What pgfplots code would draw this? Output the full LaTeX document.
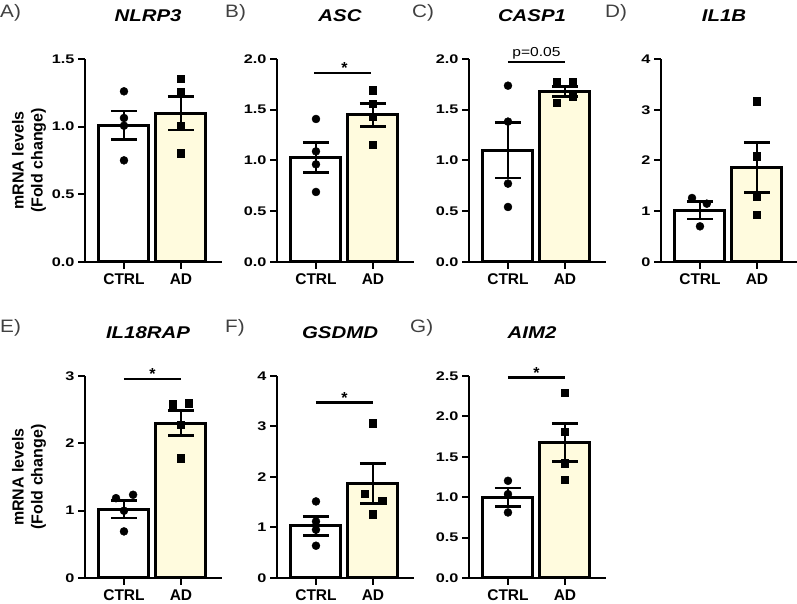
\documentclass[border=0pt]{standalone}
\usepackage{graphicx}
\usepackage{pgfplots}
\pgfplotsset{compat=1.18}
\usepackage{fontspec}
\setmainfont{Liberation Sans}

\definecolor{adfill}{RGB}{255,251,222}
\definecolor{lettergray}{RGB}{64,64,64}

% horizontally widened text, as set in the original figure
\newcommand{\wide}[2]{\scalebox{#1}[1]{#2}}

\tikzset{sig/.style={line width=2.5pt}}

\pgfplotsset{
  panel/.style={
    width=137pt, scale only axis, anchor=south west,
    axis x line*=bottom, axis y line*=left,
    xmin=-0.684, xmax=1.72, ymin=0,
    xtick={0,1}, xticklabels={CTRL,AD},
    axis line style={line width=2.2pt},
    every tick/.style={line width=2pt, black},
    major tick length=7pt, tick align=outside,
    clip=false,
    /pgf/number format/assume math mode=true,
    xticklabel style={font=\fontsize{15.5}{17}\selectfont\bfseries, yshift=-1pt},
    yticklabel={\wide{1.3}{\pgfmathprintnumber{\tick}}},
    yticklabel style={font=\fontsize{12.5}{14}\selectfont\bfseries, xshift=0pt},
    title style={font=\fontsize{17}{19}\selectfont\bfseries\itshape, at={(rel axis cs:0.46,1)}, anchor=base, yshift=31pt},
  },
  dec1/.style={yticklabel style={/pgf/number format/.cd, fixed, fixed zerofill, precision=1}},
  barbase/.style={ybar, bar width=50pt, bar shift=0pt, draw=black, line width=3pt},
  errs/.style={error bars/.cd, y dir=both, y explicit, error mark=|,
    error bar style={line width=2.8pt, black},
    error mark options={line width=2.8pt, mark size=13pt, black}},
  ctrlbar/.style={barbase, fill=white, errs},
  adbar/.style={barbase, fill=adfill, errs},
  ctrlpts/.style={only marks, mark=*, mark size=4pt, black},
  adpts/.style={only marks, mark=square*, mark size=3.7pt, black},
}

\newcommand{\ylab}{\node[rotate=90, align=center, font=\fontsize{16}{19}\selectfont\bfseries]
  at (axis description cs:-0.409,0.5) {mRNA levels\\(Fold change)};}
\newcommand{\sigstar}[1]{\node[font=\fontsize{16}{18}\selectfont\bfseries, anchor=base] at (axis cs:0.5,#1) [yshift=-1pt] {*};}

\begin{document}
\begin{tikzpicture}
\useasboundingbox (0pt,0pt) rectangle (797pt,604pt);

% panel letters
\begin{scope}[every node/.style={anchor=west, font=\fontsize{18}{20}\selectfont, text=lettergray, inner sep=0pt}]
\node at (0pt,591pt) {\wide{1.15}{A)}};
\node at (225pt,591pt) {\wide{1.15}{B)}};
\node at (412pt,591pt) {\wide{1.15}{C)}};
\node at (605pt,591pt) {\wide{1.15}{D)}};
\node at (0pt,276pt) {\wide{1.15}{E)}};
\node at (225pt,276pt) {\wide{1.15}{F)}};
\node at (410pt,276pt) {\wide{1.15}{G)}};
\end{scope}

% A) NLRP3
\begin{axis}[panel, dec1, at={(85pt,342pt)}, height=203pt, ymax=1.5, ytick={0,0.5,1,1.5}, title={\wide{1.2}{NLRP3}}]
\addplot[ctrlbar] coordinates {(0,1.01) +- (0,0.105)};
\addplot[adbar] coordinates {(1,1.10) +- (0,0.125)};
\addplot[ctrlpts] coordinates {(0,1.261) (0,1.064) (0,1.007) (0,0.751)};
\addplot[adpts] coordinates {(1,1.355) (1,1.256) (1,1.007) (1,0.803)};
\ylab
\end{axis}

% B) ASC
\begin{axis}[panel, dec1, at={(277pt,342pt)}, height=203pt, ymax=2, ytick={0,0.5,1,1.5,2}, title={\wide{1.2}{ASC}}]
\addplot[ctrlbar] coordinates {(0,1.03) +- (0,0.148)};
\addplot[adbar] coordinates {(1,1.45) +- (0,0.115)};
\addplot[ctrlpts] coordinates {(0,1.409) (0,1.090) (0,0.962) (0,0.690)};
\addplot[adpts] coordinates {(1,1.691) (1,1.560) (1,1.429) (1,1.153)};
\draw[sig] (axis cs:-0.03,1.862) -- (axis cs:0.97,1.862);
\sigstar{1.862}
\end{axis}

% C) CASP1
\begin{axis}[panel, dec1, at={(469pt,342pt)}, height=203pt, ymax=2, ytick={0,0.5,1,1.5,2}, title={\wide{1.2}{CASP1}}]
\addplot[ctrlbar] coordinates {(0,1.10) +- (0,0.273)};
\addplot[adbar] coordinates {(1,1.68) +- (0,0.05)};
\addplot[ctrlpts] coordinates {(0,1.737) (0,1.383) (0,0.772) (0,0.542)};
\addplot[adpts] coordinates {(0.86,1.776) (1.14,1.776) (0.86,1.569) (1.14,1.628)};
\draw[sig] (axis cs:0,1.97) -- (axis cs:1,1.97);
\node[font=\fontsize{13}{15}\selectfont, anchor=base] at (axis cs:0.5,1.97) [yshift=6pt] {\wide{1.2}{p=0.05}};
\end{axis}

% D) IL1B
\begin{axis}[panel, at={(661pt,342pt)}, height=203pt, ymax=4, ytick={0,1,2,3,4}, title={\wide{1.2}{IL1B}}]
\addplot[ctrlbar] coordinates {(0,1.02) +- (0,0.174)};
\addplot[adbar] coordinates {(1,1.86) +- (0,0.49)};
\addplot[ctrlpts] coordinates {(-0.14,1.261) (0.12,1.149) (0,0.703)};
\addplot[adpts] coordinates {(1,3.166) (1,2.082) (1,1.294) (1,0.933)};
\end{axis}

% E) IL18RAP
\begin{axis}[panel, at={(85pt,26pt)}, height=202pt, ymax=3, ytick={0,1,2,3}, title={\wide{1.2}{IL18RAP}}]
\addplot[ctrlbar] coordinates {(0,1.02) +- (0,0.128)};
\addplot[adbar] coordinates {(1,2.30) +- (0,0.186)};
\addplot[ctrlpts] coordinates {(-0.14,1.186) (0.16,1.236) (0,0.999) (0,0.692)};
\addplot[adpts] coordinates {(0.86,2.580) (1.14,2.595) (1,2.274) (1,1.780)};
\draw[sig] (axis cs:0,2.956) -- (axis cs:1,2.956);
\sigstar{2.956}
\ylab
\end{axis}

% F) GSDMD
\begin{axis}[panel, at={(277pt,26pt)}, height=202pt, ymax=4, ytick={0,1,2,3,4}, title={\wide{1.2}{GSDMD}}]
\addplot[ctrlbar] coordinates {(0,1.03) +- (0,0.19)};
\addplot[adbar] coordinates {(1,1.87) +- (0,0.40)};
\addplot[ctrlpts] coordinates {(0,1.516) (0,1.120) (0,0.956) (0,0.639)};
\addplot[adpts] coordinates {(1,3.064) (0.86,1.667) (1.16,1.529) (1,1.265)};
\draw[sig] (axis cs:0,3.473) -- (axis cs:1,3.473);
\sigstar{3.473}
\end{axis}

% G) AIM2
\begin{axis}[panel, dec1, at={(469pt,26pt)}, height=202pt, ymax=2.5, ytick={0,0.5,1,1.5,2,2.5}, title={\wide{1.2}{AIM2}}]
\addplot[ctrlbar] coordinates {(0,1.00) +- (0,0.113)};
\addplot[adbar] coordinates {(1,1.68) +- (0,0.235)};
\addplot[ctrlpts] coordinates {(0,1.203) (0,1.038) (0,0.811)};
\addplot[adpts] coordinates {(1,2.294) (1,1.812) (1,1.421) (1,1.215)};
\draw[sig] (axis cs:0,2.483) -- (axis cs:1,2.483);
\sigstar{2.483}
\end{axis}
\end{tikzpicture}
\end{document}
